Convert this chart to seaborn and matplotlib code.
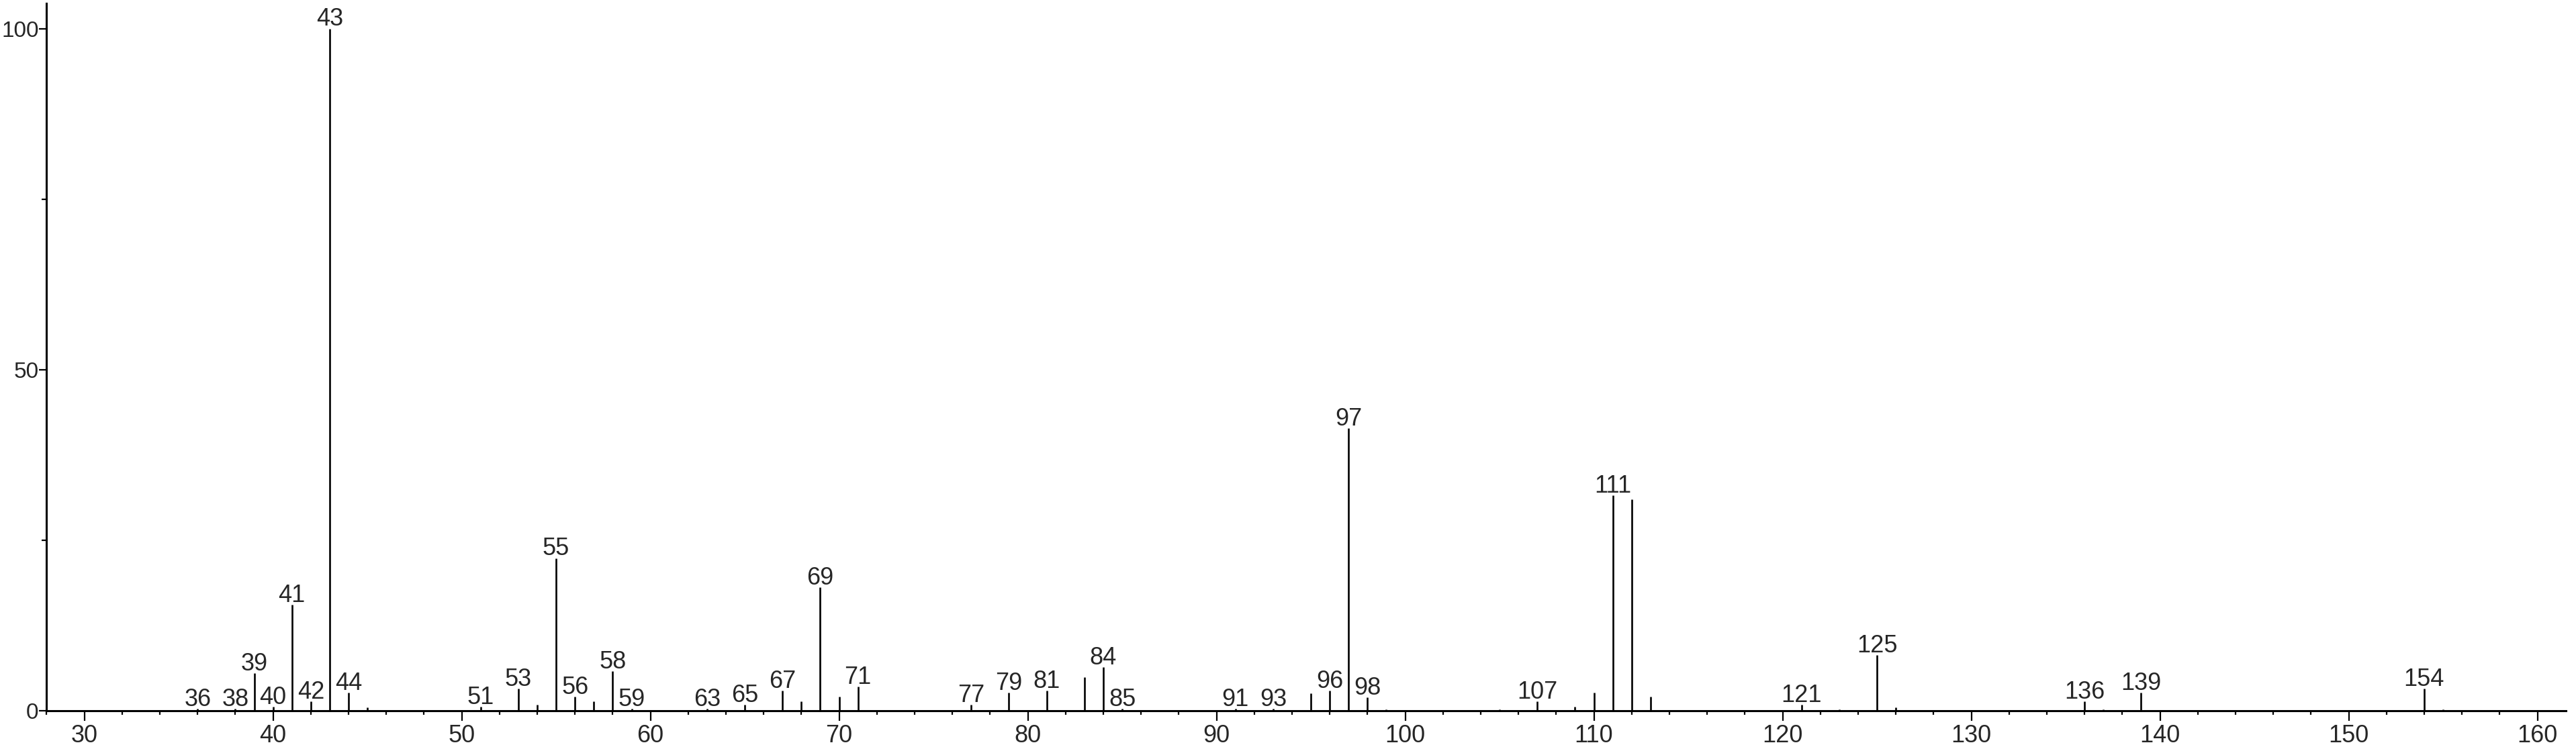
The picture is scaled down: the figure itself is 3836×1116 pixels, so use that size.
import matplotlib
matplotlib.use("Agg")
import matplotlib.pyplot as plt
import seaborn as sns
import pandas as pd
from matplotlib.ticker import MultipleLocator, FixedLocator

# ── Data ───────────────────────────────────────────────────────────────────────
mz = [36, 38, 39, 40, 41, 42, 43, 44, 45,
      51, 53, 54, 55, 56, 57, 58, 59, 63, 65, 67, 68, 69, 70, 71,
      77, 79, 81, 83, 84, 85, 91, 93, 95, 96, 97, 98, 99,
      105, 107, 109, 110, 111, 112, 113,
      121, 123, 125, 126, 136, 137, 139, 154, 155]
intensity = [0.3, 0.3, 5.5, 0.6, 15.6, 1.4, 100.0, 2.7, 0.5,
             0.6, 3.3, 0.9, 22.4, 2.1, 1.4, 5.8, 0.3, 0.3, 0.9, 3.0, 1.4, 18.1, 2.1, 3.6,
             0.9, 2.7, 3.0, 4.9, 6.4, 0.3, 0.3, 0.3, 2.6, 3.0, 41.4, 2.0, 0.2,
             0.2, 1.4, 0.6, 2.7, 31.6, 31.0, 2.1,
             0.9, 0.2, 8.2, 0.5, 1.4, 0.2, 2.7, 3.3, 0.2]
labelled = [36, 38, 39, 40, 41, 42, 43, 44, 51, 53, 55, 56, 58, 59, 63, 65, 67, 69,
            71, 77, 79, 81, 84, 85, 91, 93, 96, 97, 98, 107, 111, 121, 125, 136,
            139, 154]

df = pd.DataFrame({"mz": mz, "intensity": intensity})

# ── Style ──────────────────────────────────────────────────────────────────────
sns.set_style("ticks")
plt.rcParams["font.family"] = ["Liberation Sans", "DejaVu Sans"]

fig = plt.figure(figsize=(38.36, 11.16), dpi=100)
ax = fig.add_axes([0.0181, 0.0508, 0.9779, 0.9447])

ax.vlines(df["mz"], 0, df["intensity"], color="black", linewidth=1.9)

for _, row in df[df["mz"].isin(labelled)].iterrows():
    ax.annotate(f"{int(row['mz'])}", (row["mz"], row["intensity"]),
                xytext=(0, 3), textcoords="offset points",
                ha="center", va="baseline", fontsize=26)

ax.set_xlim(28, 161.5)
ax.set_ylim(0, 103.7)

ax.xaxis.set_major_locator(MultipleLocator(10))
ax.xaxis.set_minor_locator(MultipleLocator(2))
ax.yaxis.set_major_locator(FixedLocator([0, 50, 100]))
ax.yaxis.set_minor_locator(FixedLocator([25, 75]))

ax.tick_params(axis="x", which="major", length=11, width=1.6, pad=3,
               labelsize=26, color="black")
ax.tick_params(axis="x", which="minor", length=4.5, width=1.6, color="black")
ax.tick_params(axis="y", which="major", length=8, width=1.6, pad=0.5,
               labelsize=24, color="black")
ax.tick_params(axis="y", which="minor", length=5, width=1.6, color="black")

sns.despine(ax=ax)
for side in ["left", "bottom"]:
    ax.spines[side].set_linewidth(2.2)
    ax.spines[side].set_color("black")

ax.set_xlabel("")
ax.set_ylabel("")

plt.savefig("out.png", dpi=100)
plt.close()
